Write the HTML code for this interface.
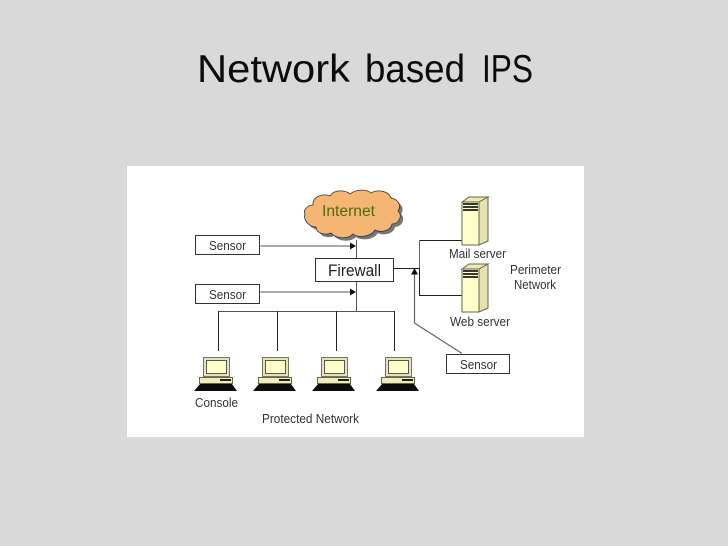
<!DOCTYPE html>
<html><head><meta charset="utf-8"><style>
html,body{margin:0;padding:0;background:#d9d9d9}
svg{display:block}
text{font-family:"Liberation Sans",Arial,sans-serif}
</style></head><body>
<svg width="728" height="546" viewBox="0 0 728 546" xmlns="http://www.w3.org/2000/svg">
<defs>
<g id="pc">
  <rect x="9.500" y="0.500" width="26" height="19" fill="#e6e2bb" stroke="#77775a" stroke-width="1"/>
  <rect x="12.500" y="3.500" width="20" height="13" fill="#ffffc8" stroke="#555" stroke-width="1"/>
  <rect x="11" y="20" width="22" height="1" fill="#d8d4ac"/>
  <rect x="5.500" y="20.500" width="33" height="6" fill="#f0ecc0" stroke="#66664c" stroke-width="1"/>
  <rect x="26" y="22" width="11" height="2" fill="#222"/>
  <path d="M6 27H38L43 34H0Z" fill="#0a0a0a"/>
</g>
<g id="srv">
  <path d="M0 5L7 0H26L17 5Z" fill="#efe9b0" stroke="#66664c" stroke-width="1"/>
  <path d="M17 5L26 0V44L17 48Z" fill="#e6e2b4" stroke="#66664c" stroke-width="1"/>
  <rect x="0" y="5" width="17" height="43" fill="#ffffcc" stroke="#66664c" stroke-width="1"/>
  <path d="M1 7H16M1 10H16M1 13H16" stroke="#1a1a1a" stroke-width="1.800"/>
</g>
<filter id="b" x="-5%" y="-5%" width="110%" height="110%"><feGaussianBlur stdDeviation="0.35"/></filter>
</defs>

<rect width="728" height="546" fill="#d9d9d9"/>
<g font-size="39" fill="#0c0c0c">
  <text x="197" y="82" textLength="153" lengthAdjust="spacingAndGlyphs">Network</text>
  <text x="365" y="82" textLength="100" lengthAdjust="spacingAndGlyphs">based</text>
  <text x="482" y="82" textLength="51" lengthAdjust="spacingAndGlyphs">IPS</text>
</g>

<rect x="127" y="166" width="457" height="271" fill="#fff"/>

<g filter="url(#b)">
  <!-- cloud -->
  <path transform="translate(3 3)" d="M305 214C302 209 310 205 313 205C312 196 324 193 330 196C334 189 346 190 350 194C356 189 367 189 371 193C378 189 389 191 391 198C398 199 402 206 398 211C403 216 399 224 392 224C391 231 380 233 375 230C371 237 358 238 353 234C347 240 335 238 331 233C325 236 316 233 316 227C309 227 303 220 305 214Z" fill="#777"/>
  <path d="M305 214C302 209 310 205 313 205C312 196 324 193 330 196C334 189 346 190 350 194C356 189 367 189 371 193C378 189 389 191 391 198C398 199 402 206 398 211C403 216 399 224 392 224C391 231 380 233 375 230C371 237 358 238 353 234C347 240 335 238 331 233C325 236 316 233 316 227C309 227 303 220 305 214Z" fill="#f5b673" stroke="#333" stroke-width="0.800"/>
  <text x="322" y="216" font-size="15.500" fill="#4f6a10" textLength="53" lengthAdjust="spacingAndGlyphs">Internet</text>

  <!-- connectors -->
  <g fill="none" stroke="#555" stroke-width="1">
    <path d="M260.500 246H351"/>
    <path d="M260.500 292H351"/>
    <path d="M356.500 240V258M356.500 281V311"/>
    <path d="M218 311.500H395"/>
  </g>
  <g fill="none" stroke="#222" stroke-width="1">
    <path d="M218.500 311V351M277.500 311V351M336.500 311V351M394.500 311V351"/>
    <path d="M394 268.500H419"/>
    <path d="M419.500 268V295"/>
    <path d="M419 240.500H462M419 295.500H462"/>
  </g>
  <path d="M419.500 240V268" stroke="#666" fill="none"/>
  <path d="M414.500 272V323L462 353.500" fill="none" stroke="#666" stroke-width="1.200"/>
  <path d="M350 242.500L356 246L350 249.500Z M350 288.500L356 292L350 295.500Z M414.500 268L418 274.500H411Z" fill="#111"/>

  <!-- boxes -->
  <g fill="#fff" stroke="#333" stroke-width="1">
    <rect x="195.500" y="235.500" width="64" height="19"/>
    <rect x="195.500" y="284.500" width="64" height="19"/>
    <rect x="315.500" y="258.500" width="78" height="23"/>
    <rect x="446.500" y="354.500" width="63" height="19"/>
  </g>
  <g font-size="12.500" fill="#333">
    <text x="209" y="250" textLength="37" lengthAdjust="spacingAndGlyphs">Sensor</text>
    <text x="209" y="299" textLength="37" lengthAdjust="spacingAndGlyphs">Sensor</text>
    <text x="460" y="369" textLength="37" lengthAdjust="spacingAndGlyphs">Sensor</text>
    <text x="449" y="258" textLength="57" lengthAdjust="spacingAndGlyphs">Mail server</text>
    <text x="450" y="326" textLength="60" lengthAdjust="spacingAndGlyphs">Web server</text>
    <text x="510" y="274" textLength="51" lengthAdjust="spacingAndGlyphs">Perimeter</text>
    <text x="514" y="289" textLength="42" lengthAdjust="spacingAndGlyphs">Network</text>
    <text x="195" y="407" textLength="43" lengthAdjust="spacingAndGlyphs">Console</text>
    <text x="262" y="423" textLength="97" lengthAdjust="spacingAndGlyphs">Protected Network</text>
  </g>
  <text x="328" y="276" font-size="16.500" fill="#222" textLength="53" lengthAdjust="spacingAndGlyphs">Firewall</text>

  <!-- servers -->
  <use href="#srv" x="462" y="197"/>
  <use href="#srv" x="462" y="264"/>

  <!-- computers -->
  <use href="#pc" x="194" y="357"/>
  <use href="#pc" x="253" y="357"/>
  <use href="#pc" x="312" y="357"/>
  <use href="#pc" x="376" y="357"/>
</g>
</svg>
</body></html>
